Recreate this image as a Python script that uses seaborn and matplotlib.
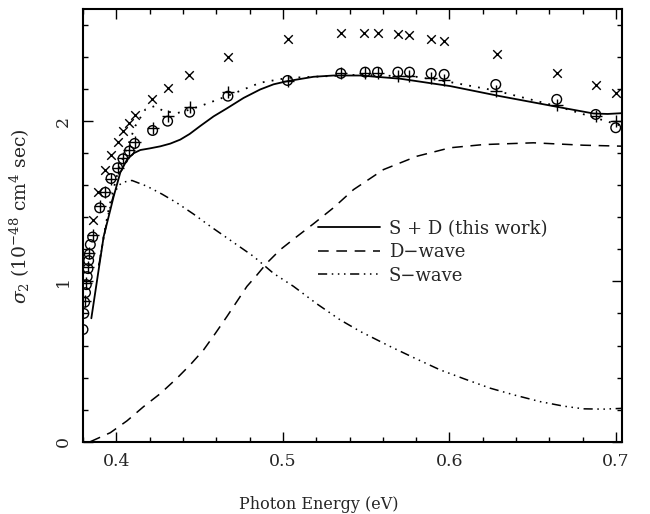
import numpy as np
import pandas as pd
import matplotlib
matplotlib.use("Agg")
import matplotlib.pyplot as plt
from matplotlib.ticker import MultipleLocator
import seaborn as sns

cross_x = [0.3858, 0.389, 0.393, 0.3968, 0.4008, 0.404, 0.4078, 0.411, 0.4214, 0.4308,
           0.4434, 0.467, 0.5028, 0.5348, 0.5484, 0.5568, 0.569, 0.576, 0.589, 0.5968,
           0.6284, 0.6644, 0.6878, 0.6998]
cross_y = [1.386, 1.556, 1.694, 1.792, 1.871, 1.938, 1.99, 2.036, 2.14, 2.21,
           2.29, 2.40, 2.51, 2.55, 2.55, 2.55, 2.546, 2.536, 2.51, 2.50,
           2.417, 2.30, 2.225, 2.173]

circ_x = [0.3800, 0.3805, 0.3810, 0.3815, 0.3820, 0.3825, 0.3830, 0.3834, 0.3838, 0.3844,
          0.3858, 0.390, 0.3934, 0.3968, 0.4008, 0.404, 0.4078, 0.411, 0.4218, 0.4308,
          0.444, 0.467, 0.5028, 0.5348, 0.5494, 0.5568, 0.569, 0.576, 0.589, 0.5968,
          0.6278, 0.6644, 0.6878, 0.6998]
circ_y = [0.70, 0.80, 0.87, 0.93, 0.98, 1.03, 1.08, 1.13, 1.17, 1.23,
          1.277, 1.459, 1.556, 1.642, 1.709, 1.765, 1.813, 1.861, 1.942, 2.0,
          2.056, 2.156, 2.254, 2.298, 2.306, 2.306, 2.306, 2.306, 2.298, 2.292,
          2.229, 2.136, 2.042, 1.959]

plus_x = [0.3810, 0.3820, 0.3830, 0.3838, 0.3858, 0.390, 0.3934, 0.3968, 0.4008, 0.404,
          0.4078, 0.411, 0.4218, 0.4308, 0.444, 0.467, 0.5028, 0.5348, 0.5494, 0.5568,
          0.569, 0.576, 0.589, 0.5968, 0.6278, 0.6644, 0.6878, 0.6998]
plus_y = [0.88, 0.99, 1.09, 1.18, 1.29, 1.47, 1.56, 1.64, 1.71, 1.77,
          1.82, 1.87, 1.96, 2.03, 2.09, 2.18, 2.25, 2.30, 2.30, 2.30,
          2.28, 2.28, 2.27, 2.26, 2.19, 2.10, 2.03, 2.00]

# model curves
sd_x = [0.385, 0.3924, 0.3984, 0.4024, 0.4064, 0.4104, 0.4144, 0.420, 0.4264, 0.4324,
        0.4384, 0.444, 0.4504, 0.4584, 0.4664, 0.4764, 0.4864, 0.4944, 0.5028, 0.5184,
        0.5304, 0.5464, 0.5704, 0.6004, 0.6304, 0.6644, 0.6864, 0.695, 0.7036]
sd_y = [0.77, 1.28, 1.53, 1.68, 1.76, 1.80, 1.82, 1.83, 1.843, 1.86,
        1.885, 1.92, 1.97, 2.03, 2.08, 2.145, 2.198, 2.23, 2.25, 2.277,
        2.285, 2.285, 2.265, 2.219, 2.156, 2.09, 2.048, 2.045, 2.05]

sd2_x = [0.3895, 0.3924, 0.3954, 0.3984, 0.4014, 0.4044, 0.4074, 0.4114, 0.4174, 0.423,
         0.4284, 0.4364, 0.4434, 0.4504, 0.4664, 0.4864, 0.5028, 0.5184, 0.5464, 0.58,
         0.6004, 0.628, 0.6644, 0.6878, 0.7036]
sd2_y = [1.10, 1.28, 1.45, 1.58, 1.70, 1.78, 1.86, 1.97, 2.073, 2.094,
         2.063, 2.05, 2.07, 2.094, 2.156, 2.24, 2.27, 2.277, 2.29, 2.277,
         2.244, 2.19, 2.094, 2.02, 1.97]

d_x = [0.3844, 0.3964, 0.4064, 0.4164, 0.4264, 0.4364, 0.4444, 0.4524, 0.4594, 0.4664,
       0.4724, 0.4784, 0.4844, 0.4904, 0.4984, 0.5084, 0.5184, 0.5304, 0.5424, 0.5604,
       0.5804, 0.6004, 0.6204, 0.6504, 0.6804, 0.7036]
d_y = [0.0, 0.056, 0.13, 0.219, 0.30, 0.396, 0.48, 0.573, 0.675, 0.781,
       0.875, 0.969, 1.04, 1.115, 1.198, 1.28, 1.36, 1.46, 1.573, 1.698,
       1.781, 1.834, 1.854, 1.865, 1.85, 1.844]

s_x = [0.3895, 0.3924, 0.3954, 0.3984, 0.4014, 0.4044, 0.4094, 0.4184, 0.4274, 0.4364,
       0.4464, 0.4564, 0.4694, 0.4824, 0.4944, 0.5064, 0.5204, 0.5344, 0.5464, 0.5644,
       0.5794, 0.5944, 0.6094, 0.6244, 0.6394, 0.6544, 0.6684, 0.6804, 0.6924, 0.7036]
s_y = [1.10, 1.27, 1.43, 1.54, 1.60, 1.62, 1.63, 1.594, 1.545, 1.49,
       1.42, 1.344, 1.25, 1.156, 1.05, 0.969, 0.86, 0.76, 0.688, 0.594,
       0.52, 0.448, 0.39, 0.334, 0.29, 0.25, 0.222, 0.205, 0.203, 0.208]

sns.set_style("ticks")
plt.rcParams['font.family'] = ['DejaVu Serif']
plt.rcParams['mathtext.fontset'] = 'dejavuserif'

fig = plt.figure(figsize=(6.5, 5.14), dpi=100)
ax = fig.add_axes([0.1277, 0.1407, 0.8293, 0.8418])

# 模型曲线
sns.lineplot(x=sd_x, y=sd_y, ax=ax, sort=False, color='black', lw=1.3,
             label='S + D (this work)')
sns.lineplot(x=d_x, y=d_y, ax=ax, sort=False, color='black', lw=1.1,
             label='D\u2212wave')
sns.lineplot(x=s_x, y=s_y, ax=ax, sort=False, color='black', lw=1.1,
             label='S\u2212wave')
sns.lineplot(x=sd2_x, y=sd2_y, ax=ax, sort=False, color='black', lw=1.3)
ax.lines[1].set_dashes([7, 5])
ax.lines[2].set_dashes([6, 3, 1, 3, 1, 3, 1, 3])
ax.lines[3].set_dashes([1, 4])

# 数据点
sns.scatterplot(x=cross_x, y=cross_y, ax=ax, marker='x', s=38, color='black',
                linewidth=1.0, zorder=5)
sns.scatterplot(x=circ_x, y=circ_y, ax=ax, marker='o', s=48, fc='none',
                ec='black', linewidth=1.0, zorder=5)
sns.scatterplot(x=plus_x, y=plus_y, ax=ax, marker='+', s=70, color='black',
                linewidth=1.0, zorder=5)

ax.set_xlim(0.38, 0.7036)
ax.set_ylim(0, 2.70)
ax.xaxis.set_minor_locator(MultipleLocator(0.02))
ax.yaxis.set_minor_locator(MultipleLocator(0.2))
ax.set_xticks([0.4, 0.5, 0.6, 0.7])
ax.set_xticklabels(['0.4', '0.5', '0.6', '0.7'])
ax.set_yticks([0, 1, 2])
ax.set_yticklabels(['0', '1', '2'], rotation=90, va='center')
ax.tick_params(which='both', direction='in', top=True, right=True,
               labelsize=12.5, width=1.0, color='black')
ax.tick_params(which='major', length=7, pad=8)
ax.tick_params(which='minor', length=3.5)
for sp in ax.spines.values():
    sp.set_linewidth(1.5)
    sp.set_color('black')

ax.set_xlabel('Photon Energy (eV)', fontsize=11.5)
ax.set_ylabel(r'$\sigma_2$ (10$^{-48}$ cm$^4$ sec)', fontsize=13.5)
ax.xaxis.set_label_coords(0.438, -0.125)
ax.yaxis.set_label_coords(-0.095, 0.52)

ax.legend(loc='center left', bbox_to_anchor=(0.42, 0.438), frameon=False,
          fontsize=13, handlelength=3.4, labelspacing=0.3, borderpad=0,
          handletextpad=0.5)

fig.savefig('out.png', dpi=100)
